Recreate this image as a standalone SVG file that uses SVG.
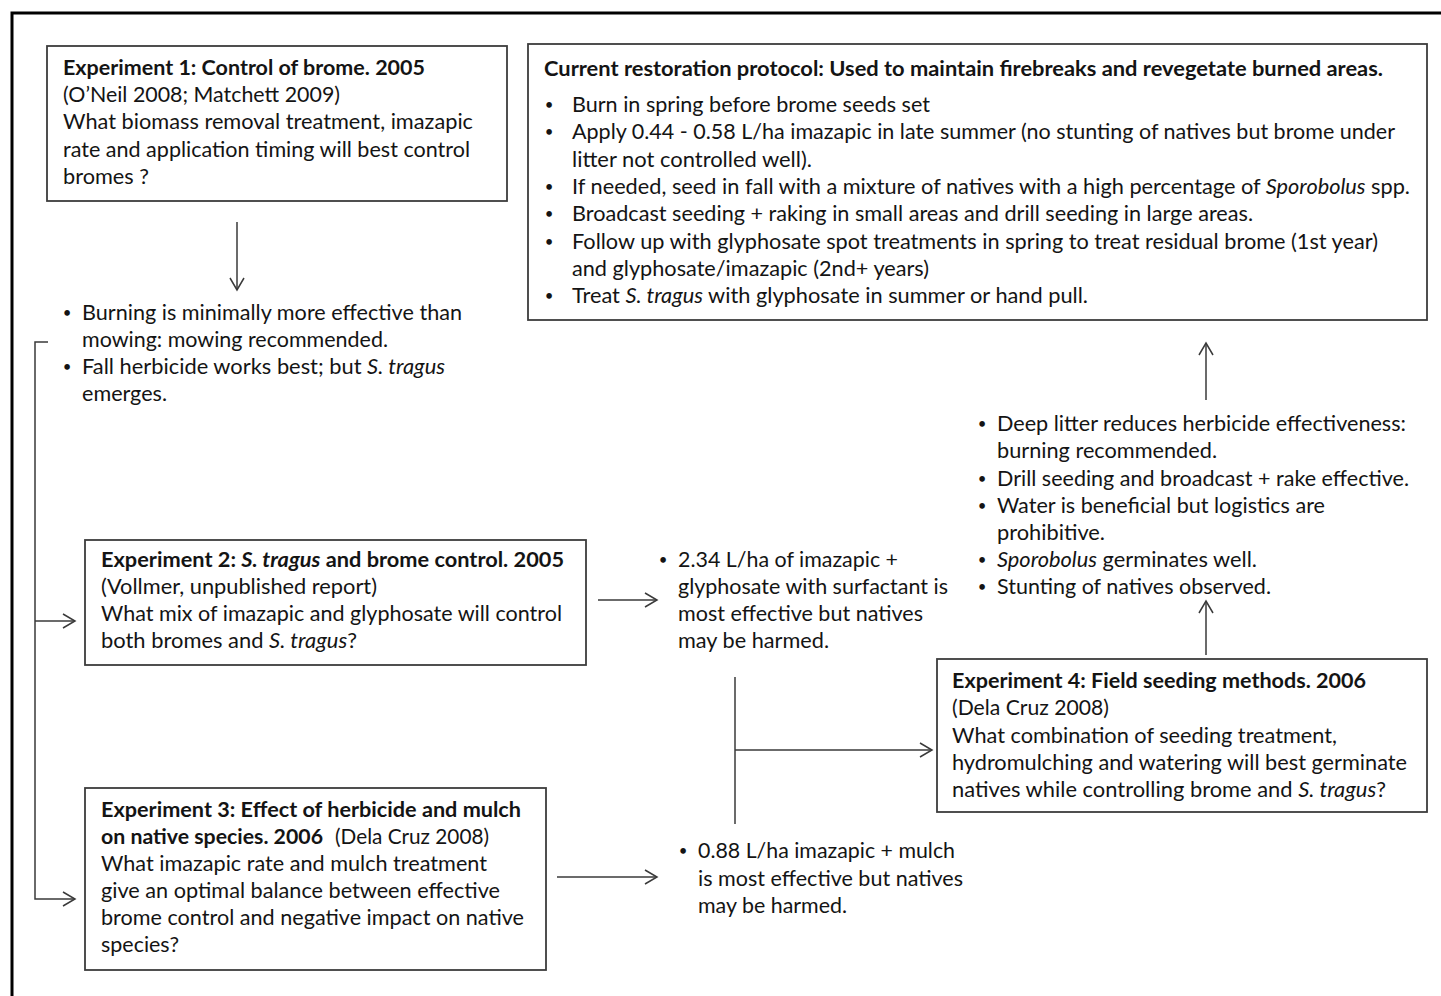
<svg xmlns="http://www.w3.org/2000/svg" width="1441" height="996" viewBox="0 0 1441 996">
<style>
text{font-family:Lato,"Open Sans","Liberation Sans",sans-serif;font-size:20.5px;fill:#141414}
.b{font-weight:bold}
.i{font-style:italic}
.d{font-size:15px;text-anchor:middle}
.box{fill:none;stroke:#3c3c3c;stroke-width:1.8}
.c{fill:none;stroke:#3a3a3a;stroke-width:1.5}
</style>
<defs>
<marker id="ah" markerUnits="userSpaceOnUse" viewBox="0 0 16 16" markerWidth="16" markerHeight="16" refX="14" refY="8" orient="auto">
<path d="M2,1 L14,8 L2,15" fill="none" stroke="#3a3a3a" stroke-width="1.5"/>
</marker>
</defs>
<rect width="1441" height="996" fill="#fff"/>
<path d="M12,996 V13 H1441" fill="none" stroke="#000" stroke-width="3"/>

<g id="exp1">
<rect class="box" x="47" y="46" width="460" height="155"/>
<text class="b" x="63" y="75" textLength="362" lengthAdjust="spacingAndGlyphs">Experiment 1: Control of brome. 2005</text>
<text x="63" y="102" textLength="277" lengthAdjust="spacingAndGlyphs">(O’Neil 2008; Matchett 2009)</text>
<text x="63" y="129" textLength="410" lengthAdjust="spacingAndGlyphs">What biomass removal treatment, imazapic</text>
<text x="63" y="157" textLength="407" lengthAdjust="spacingAndGlyphs">rate and application timing will best control</text>
<text x="63" y="184" textLength="86" lengthAdjust="spacingAndGlyphs">bromes ?</text>
</g>

<g id="result1">
<text class="d" x="67" y="318">•</text><text x="82" y="320" textLength="380" lengthAdjust="spacingAndGlyphs">Burning is minimally more effective than</text>
<text x="82" y="347" textLength="306" lengthAdjust="spacingAndGlyphs">mowing: mowing recommended.</text>
<text class="d" x="67" y="372">•</text><text x="82" y="374" textLength="363" lengthAdjust="spacingAndGlyphs">Fall herbicide works best; but <tspan class="i">S. tragus</tspan></text>
<text x="82" y="401" textLength="85" lengthAdjust="spacingAndGlyphs">emerges.</text>
</g>

<g id="protocol">
<rect class="box" x="528" y="44" width="899" height="276"/>
<text class="b" x="544" y="76" textLength="839" lengthAdjust="spacingAndGlyphs">Current restoration protocol: Used to maintain firebreaks and revegetate burned areas.</text>
<text class="d" x="549" y="110">•</text><text x="572" y="112" textLength="358" lengthAdjust="spacingAndGlyphs">Burn in spring before brome seeds set</text>
<text class="d" x="549" y="137">•</text><text x="572" y="139" textLength="823" lengthAdjust="spacingAndGlyphs">Apply 0.44 - 0.58 L/ha imazapic in late summer (no stunting of natives but brome under</text>
<text x="572" y="167" textLength="240" lengthAdjust="spacingAndGlyphs">litter not controlled well).</text>
<text class="d" x="549" y="192">•</text><text x="572" y="194" textLength="838" lengthAdjust="spacingAndGlyphs">If needed, seed in fall with a mixture of natives with a high percentage of <tspan class="i">Sporobolus</tspan> spp.</text>
<text class="d" x="549" y="219">•</text><text x="572" y="221" textLength="681" lengthAdjust="spacingAndGlyphs">Broadcast seeding + raking in small areas and drill seeding in large areas.</text>
<text class="d" x="549" y="247">•</text><text x="572" y="249" textLength="806" lengthAdjust="spacingAndGlyphs">Follow up with glyphosate spot treatments in spring to treat residual brome (1st year)</text>
<text x="572" y="276" textLength="357" lengthAdjust="spacingAndGlyphs">and glyphosate/imazapic (2nd+ years)</text>
<text class="d" x="549" y="301">•</text><text x="572" y="303" textLength="516" lengthAdjust="spacingAndGlyphs">Treat <tspan class="i">S. tragus</tspan> with glyphosate in summer or hand pull.</text>
</g>

<g id="result4">
<text class="d" x="982" y="429">•</text><text x="997" y="431" textLength="409" lengthAdjust="spacingAndGlyphs">Deep litter reduces herbicide effectiveness:</text>
<text x="997" y="458" textLength="220" lengthAdjust="spacingAndGlyphs">burning recommended.</text>
<text class="d" x="982" y="484">•</text><text x="997" y="486" textLength="412" lengthAdjust="spacingAndGlyphs">Drill seeding and broadcast + rake effective.</text>
<text class="d" x="982" y="511">•</text><text x="997" y="513" textLength="328" lengthAdjust="spacingAndGlyphs">Water is beneficial but logistics are</text>
<text x="997" y="540" textLength="108" lengthAdjust="spacingAndGlyphs">prohibitive.</text>
<text class="d" x="982" y="565">•</text><text x="997" y="567" textLength="260" lengthAdjust="spacingAndGlyphs"><tspan class="i">Sporobolus</tspan> germinates well.</text>
<text class="d" x="982" y="592">•</text><text x="997" y="594" textLength="274" lengthAdjust="spacingAndGlyphs">Stunting of natives observed.</text>
</g>

<g id="exp2">
<rect class="box" x="85" y="540" width="501" height="125"/>
<text class="b" x="101" y="567" textLength="463" lengthAdjust="spacingAndGlyphs">Experiment 2: <tspan class="i">S. tragus</tspan> and brome control. 2005</text>
<text x="101" y="594" textLength="276" lengthAdjust="spacingAndGlyphs">(Vollmer, unpublished report)</text>
<text x="101" y="621" textLength="461" lengthAdjust="spacingAndGlyphs">What mix of imazapic and glyphosate will control</text>
<text x="101" y="648" textLength="256" lengthAdjust="spacingAndGlyphs">both bromes and <tspan class="i">S. tragus</tspan>?</text>
</g>

<g id="result2">
<text class="d" x="663" y="565">•</text><text x="678" y="567" textLength="220" lengthAdjust="spacingAndGlyphs">2.34 L/ha of imazapic +</text>
<text x="678" y="594" textLength="270" lengthAdjust="spacingAndGlyphs">glyphosate with surfactant is</text>
<text x="678" y="621" textLength="245" lengthAdjust="spacingAndGlyphs">most effective but natives</text>
<text x="678" y="648" textLength="151" lengthAdjust="spacingAndGlyphs">may be harmed.</text>
</g>

<g id="exp3">
<rect class="box" x="85" y="788" width="461" height="182"/>
<text class="b" x="101" y="817" textLength="420" lengthAdjust="spacingAndGlyphs">Experiment 3: Effect of herbicide and mulch</text>
<text class="b" x="101" y="844" textLength="222" lengthAdjust="spacingAndGlyphs">on native species. 2006</text>
<text x="335" y="844" textLength="154" lengthAdjust="spacingAndGlyphs">(Dela Cruz 2008)</text>
<text x="101" y="871" textLength="386" lengthAdjust="spacingAndGlyphs">What imazapic rate and mulch treatment</text>
<text x="101" y="898" textLength="399" lengthAdjust="spacingAndGlyphs">give an optimal balance between effective</text>
<text x="101" y="925" textLength="423" lengthAdjust="spacingAndGlyphs">brome control and negative impact on native</text>
<text x="101" y="952" textLength="78" lengthAdjust="spacingAndGlyphs">species?</text>
</g>

<g id="result3">
<text class="d" x="683" y="856">•</text><text x="698" y="858" textLength="257" lengthAdjust="spacingAndGlyphs">0.88 L/ha imazapic + mulch</text>
<text x="698" y="886" textLength="265" lengthAdjust="spacingAndGlyphs">is most effective but natives</text>
<text x="698" y="913" textLength="149" lengthAdjust="spacingAndGlyphs">may be harmed.</text>
</g>

<g id="exp4">
<rect class="box" x="937" y="659" width="490" height="153"/>
<text class="b" x="952" y="688" textLength="414" lengthAdjust="spacingAndGlyphs">Experiment 4: Field seeding methods. 2006</text>
<text x="952" y="715" textLength="157" lengthAdjust="spacingAndGlyphs">(Dela Cruz 2008)</text>
<text x="952" y="743" textLength="385" lengthAdjust="spacingAndGlyphs">What combination of seeding treatment,</text>
<text x="952" y="770" textLength="455" lengthAdjust="spacingAndGlyphs">hydromulching and watering will best germinate</text>
<text x="952" y="797" textLength="434" lengthAdjust="spacingAndGlyphs">natives while controlling brome and <tspan class="i">S. tragus</tspan>?</text>
</g>

<g id="connectors">
<path class="c" d="M237,222 V290" marker-end="url(#ah)"/>
<path class="c" d="M48,342 H35 V899 H75" marker-end="url(#ah)"/>
<path class="c" d="M35,621 H75" marker-end="url(#ah)"/>
<path class="c" d="M598,600 H657" marker-end="url(#ah)"/>
<path class="c" d="M557,877 H657" marker-end="url(#ah)"/>
<path class="c" d="M735,677 V824"/>
<path class="c" d="M735,750 H932" marker-end="url(#ah)"/>
<path class="c" d="M1206,655 V601" marker-end="url(#ah)"/>
<path class="c" d="M1206,400 V343" marker-end="url(#ah)"/>
</g>
</svg>
